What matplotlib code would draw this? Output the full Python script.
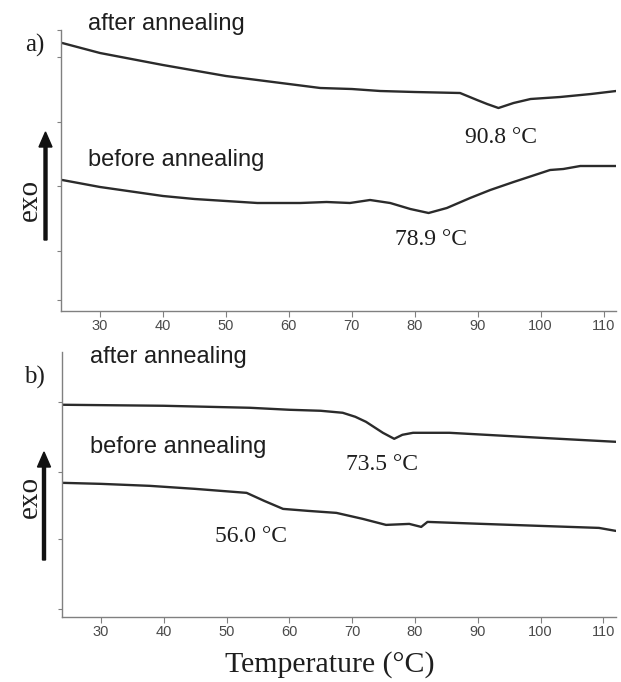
import matplotlib
matplotlib.use("Agg")
import matplotlib.pyplot as plt
from matplotlib.patches import FancyArrow

# DSC traces, heat flow in arbitrary units
temp_a_after = [24, 30, 35, 40, 50, 60, 65, 70, 74.5, 80, 87.2, 89.9, 91.5, 93.3, 95.7, 98.4, 103.1, 108, 112]
flow_a_after = [26.8, 25.8, 25.2, 24.6, 23.5, 22.7, 22.3, 22.2, 22.0, 21.9, 21.8, 21.1, 20.7, 20.3, 20.8, 21.2, 21.4, 21.7, 22.0]
temp_a_before = [24, 30, 40, 45, 50, 55, 61.8, 66, 69.7, 72.9, 76.1, 79.3, 82.2, 85.1, 88.8, 92, 95.7, 101.5, 103.6, 106.3, 112]
flow_a_before = [13.1, 12.4, 11.5, 11.2, 11.0, 10.8, 10.8, 10.9, 10.8, 11.1, 10.8, 10.2, 9.8, 10.3, 11.3, 12.1, 12.9, 14.1, 14.2, 14.5, 14.5]

temp_b_after = [24, 40, 53.7, 60, 65, 68.5, 70.5, 72.2, 74.9, 76.7, 78, 79.7, 85.5, 100, 112]
flow_b_after = [21.2, 21.1, 20.9, 20.7, 20.6, 20.4, 20.0, 19.5, 18.4, 17.8, 18.2, 18.4, 18.4, 17.9, 17.5]
temp_b_before = [24, 30, 37.8, 45, 53.2, 56, 59, 63, 67.5, 71.7, 75.4, 79.1, 81.0, 82.0, 90.8, 100, 109.3, 112]
flow_b_before = [13.4, 13.3, 13.1, 12.8, 12.4, 11.6, 10.8, 10.6, 10.4, 9.8, 9.2, 9.3, 9.0, 9.5, 9.3, 9.1, 8.9, 8.6]

xticks = [30, 40, 50, 60, 70, 80, 90, 100, 110]
yticks_a = [1.1, 6.0, 12.5, 18.9, 25.4, 28.1]
yticks_b = [0.8, 7.8, 14.5, 21.5]

line_c = "#2b2b2b"
axis_c = "#808080"
text_c = "#1e1e1e"
serif = ["Liberation Serif", "DejaVu Serif"]
sans = ["Liberation Sans", "DejaVu Sans"]
narrow = ["Liberation Sans Narrow", "Liberation Sans", "DejaVu Sans"]

fig = plt.figure(figsize=(6.21, 6.82), dpi=100)
ax_a = fig.add_axes([0.0982, 0.544, 0.894, 0.412])
ax_b = fig.add_axes([0.0998, 0.0953, 0.892, 0.389])


def style(ax, ylim, yticks):
    ax.set_xlim(23.8, 112)
    ax.set_ylim(*ylim)
    for s in ["top", "right"]:
        ax.spines[s].set_visible(False)
    for s in ["left", "bottom"]:
        ax.spines[s].set_color(axis_c)
        ax.spines[s].set_linewidth(1.0)
    ax.set_xticks(xticks)
    ax.set_xticklabels([str(t) for t in xticks], family=narrow, fontsize=10.5, color="#4a4a4a")
    ax.set_yticks(yticks)
    ax.set_yticklabels([])
    ax.tick_params(axis="x", direction="out", length=4, width=0.8, color=axis_c, pad=2)
    ax.tick_params(axis="y", direction="out", length=3, width=0.8, color=axis_c)


style(ax_a, (0, 28.1), yticks_a)
style(ax_b, (0, 26.5), yticks_b)

for ax, xs, ys in [(ax_a, temp_a_after, flow_a_after), (ax_a, temp_a_before, flow_a_before),
                   (ax_b, temp_b_after, flow_b_after), (ax_b, temp_b_before, flow_b_before)]:
    ax.plot(xs, ys, color=line_c, lw=1.7, solid_joinstyle="round", solid_capstyle="round")

lab = dict(family=sans, fontsize=17, color=text_c, va="center", ha="left", clip_on=False)
num = dict(family=serif, fontsize=17, color=text_c, va="center", ha="left", clip_on=False)

ax_a.text(28.1, 28.7, "after annealing", **lab)
ax_a.text(28.1, 15.1, "before annealing", **lab)
ax_a.text(88.0, 17.4, "90.8 °C", **num)
ax_a.text(76.9, 7.1, "78.9 °C", **num)
ax_a.text(19.7, 26.6, "a)", family=serif, fontsize=18, color=text_c, ha="center", va="center", clip_on=False)

ax_b.text(28.3, 26.0, "after annealing", **lab)
ax_b.text(28.3, 17.0, "before annealing", **lab)
ax_b.text(69.1, 15.2, "73.5 °C", **num)
ax_b.text(48.1, 8.0, "56.0 °C", **num)
ax_b.text(19.5, 23.9, "b)", family=serif, fontsize=18, color=text_c, ha="center", va="center", clip_on=False)

W, H = 621.0, 682.0
for ypix in [200, 497]:
    fig.text(30 / W, 1 - ypix / H, "exo", family=serif, fontsize=21, color=text_c,
             rotation=90, ha="center", va="center")

# exo arrows
for xpix, y0, y1 in [(45.5, 240, 132), (44.0, 560, 452)]:
    fig.add_artist(FancyArrow(xpix / W, 1 - y0 / H, 0, (y0 - y1) / H,
                              width=3.0 / W, head_width=13 / W, head_length=15 / H,
                              length_includes_head=True, color="#111111",
                              transform=fig.transFigure))

fig.text(330 / W, 1 - 665 / H, "Temperature (°C)", family=serif, fontsize=21.5,
         color=text_c, ha="center", va="center")

fig.savefig("out.png", dpi=100)
